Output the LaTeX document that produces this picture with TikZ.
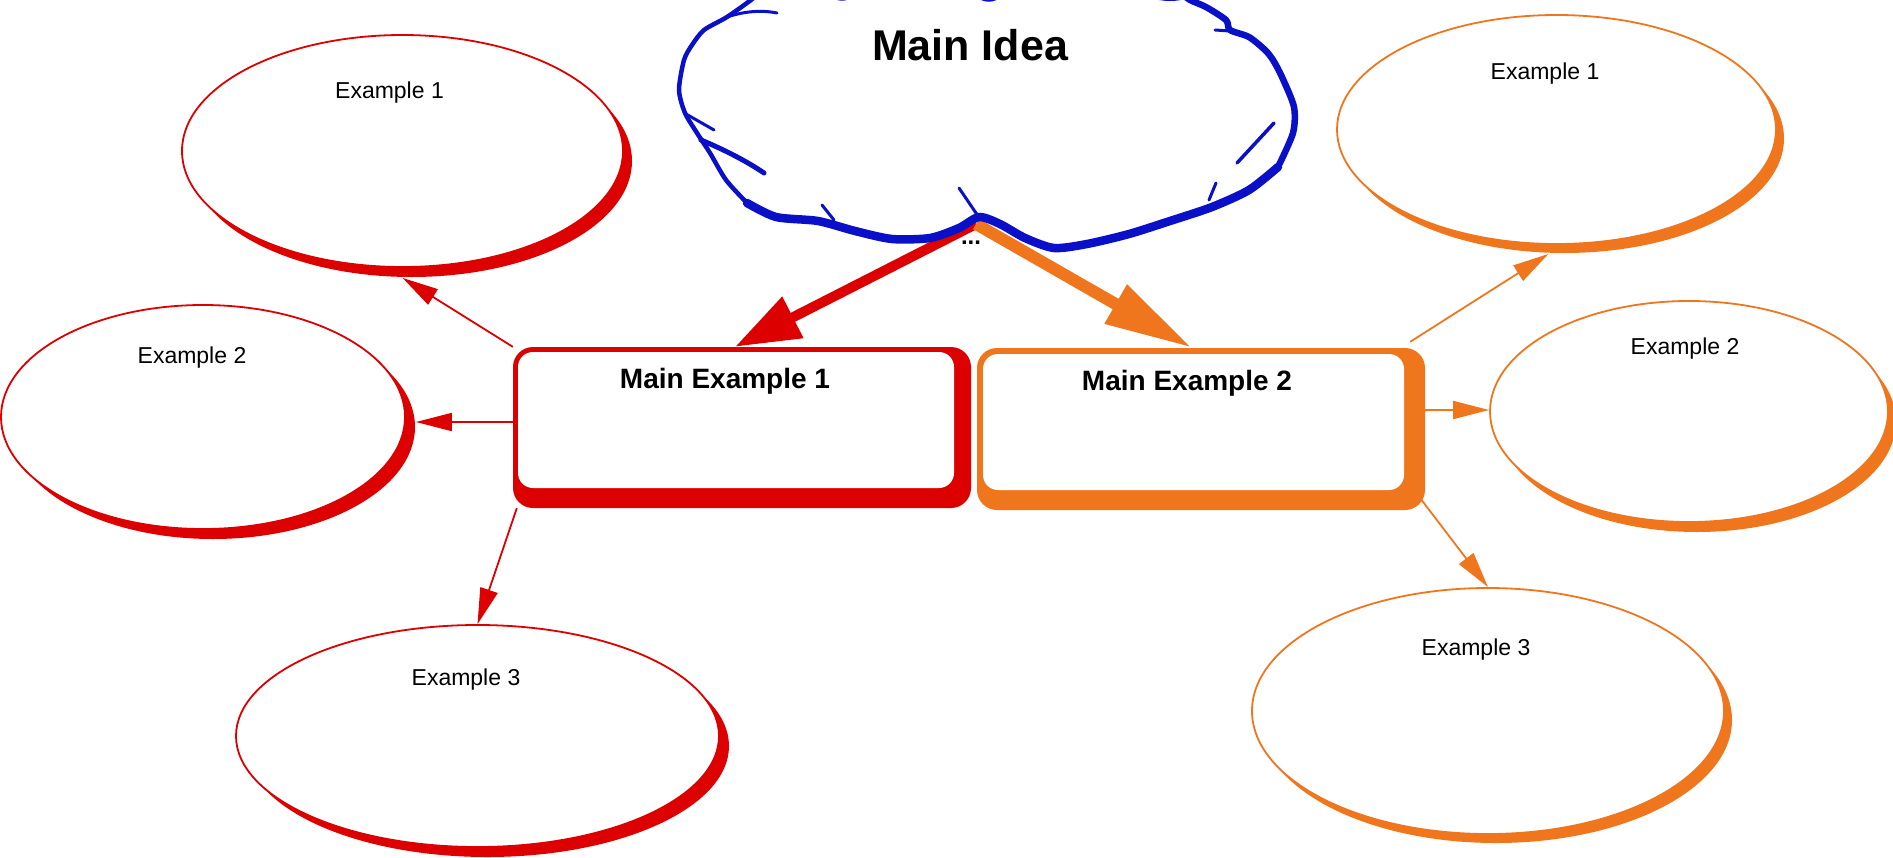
\documentclass[tikz,border=0pt]{standalone}
\usepackage{fontspec}
\setmainfont{Liberation Sans}
\usetikzlibrary{shapes.geometric,shadows,arrows.meta}
\definecolor{redc}{RGB}{221,0,0}
\definecolor{orangec}{RGB}{240,118,30}
\definecolor{bluec}{RGB}{10,15,200}
\begin{document}
\begin{tikzpicture}[x=1pt,y=-1pt,
  oval/.style args={#1/#2/#3}{ellipse, draw=#1, line width=1.8pt, fill=white, inner sep=0pt,
    drop shadow={shadow xshift=#2pt, shadow yshift=-#3pt, fill=#1, opacity=1}},
  mbox/.style args={#1/#2/#3/#4/#5}{rectangle, rounded corners=20pt, fill=#1, inner sep=0pt,
    path picture={\fill[white,rounded corners=15pt]
      ([shift={(#2pt,-#3pt)}]path picture bounding box.north west) rectangle
      ([shift={(-#4pt,#5pt)}]path picture bounding box.south east);}},
  extext/.style={font=\fontsize{23pt}{26pt}\selectfont, inner sep=0pt},
  mtext/.style={font=\bfseries\fontsize{28pt}{32pt}\selectfont, inner sep=0pt},
  thinarr/.style={draw=#1, line width=1.8pt, -{Triangle[length=36pt,width=18pt]}},
  cloudline/.style={draw=bluec, line join=round, line cap=round},
]
\useasboundingbox (0,0) rectangle (1893,857);

% ---- left ovals (red)
\node[oval=redc/9/10, minimum width=441pt, minimum height=232pt] (e1L) at (402.5,151) {};
\node[oval=redc/10/10, minimum width=404pt, minimum height=224pt] (e2L) at (203,417) {};
\node[oval=redc/10/10, minimum width=483pt, minimum height=222pt] (e3L) at (477.5,736) {};
% ---- right ovals (orange)
\node[oval=orangec/8/9, minimum width=439pt, minimum height=229pt] (e1R) at (1556.5,129.5) {};
\node[oval=orangec/8/10, minimum width=398pt, minimum height=221pt] (e2R) at (1689,411.5) {};
\node[oval=orangec/8/9, minimum width=472pt, minimum height=246pt] (e3R) at (1488,711) {};

\node[extext] (t1L) at (389.5,93) {Example 1};
\node[extext] (t2L) at (192,357.5) {Example 2};
\node[extext] (t3L) at (466,680) {Example 3};
\node[extext] (t1R) at (1545,73.5) {Example 1};
\node[extext] (t2R) at (1685,349) {Example 2};
\node[extext] (t3R) at (1476,650) {Example 3};

% ---- main boxes
\node[mbox=redc/5/5/17/20, minimum width=458pt, minimum height=161pt] (m1) at (742,427.5) {};
\node[mbox=orangec/6/6/21/20, minimum width=448pt, minimum height=162pt] (m2) at (1201,429) {};
\node[mtext] (mt1) at (725,381) {Main Example 1};
\node[mtext] (mt2) at (1187,383) {Main Example 2};

% ---- thin connectors
\draw[thinarr=redc] (m1.north west) -- ([yshift=-10pt]e1L.south);
\draw[thinarr=redc] ([yshift=5.5pt]m1.west) -- ([xshift=10pt,yshift=-5pt]e2L.east);
\draw[thinarr=redc] ([xshift=4pt]m1.south west) -- (e3L.north);
\draw[thinarr=orangec] ([xshift=-15pt,yshift=6pt]m2.north east) -- ([xshift=-8pt,yshift=-9pt]e1R.south);
\draw[thinarr=orangec] ([yshift=19pt]m2.east) -- ([yshift=1.5pt]e2R.west);
\draw[thinarr=orangec] ([xshift=-5pt,yshift=12pt]m2.south east) -- (e3R.north);

% ---- thick connectors from the cloud
\coordinate (notch) at (976,224);
\draw[redc, line width=10pt, -{Triangle[length=65pt,width=44pt]}] (notch) -- ([xshift=-7pt]m1.north);
\draw[orangec, line width=12pt, -{Triangle[length=88pt,width=42pt]}] (notch) -- ([xshift=-9pt]m2.north);

% ---- cloud
\path[fill=white] (751,-20) -- (751,0) -- (727,17) -- (704,30) -- (684,60) -- (679,90)
  -- (685,113) -- (697,133) -- (710,153) -- (726,180) -- (747,203) -- (776,217) -- (818,220)
  -- (855,230) -- (892,238) -- (930,237) -- (959,227) -- (980,217) -- (1000,223) -- (1025,237)
  -- (1054,248) -- (1087,243) -- (1129,233) -- (1170,220) -- (1212,207) -- (1249,190)
  -- (1278,167) -- (1293,133) -- (1293,107) -- (1282,77) -- (1273,60) -- (1265,50) -- (1249,37)
  -- (1230,30) -- (1226,20) -- (1206,7) -- (1190,0) -- (1190,-20) -- cycle;
\draw[cloudline, line width=4.5pt] plot[smooth, tension=0.45] coordinates {
  (760,-8) (751,0) (727,17) (704,30) (692,45) (684,60) (679,90) (685,113) (697,133) (710,153)
  (726,180) (747,203)};
\draw[cloudline, line width=8.5pt] plot[smooth, tension=0.45] coordinates {
  (747,203) (776,217) (818,221) (855,231) (892,239) (930,238) (959,228) (979,217) (1000,224)
  (1025,238) (1054,248) (1087,244) (1129,234) (1170,221) (1212,207) (1249,190) (1278,167)};
\draw[cloudline, line width=6.5pt] plot[smooth, tension=0.45] coordinates {
  (1278,167) (1293,133) (1294,107) (1282,77) (1273,60) (1265,50) (1249,37) (1230,30)
  (1226,20) (1206,7) (1190,0) (1180,-8)};
% top bumps peeking in
\draw[cloudline, line width=3pt] (830,-6) .. controls (838,1) and (846,1) .. (854,-6);
\draw[cloudline, line width=3.5pt] (975,-6) .. controls (984,2) and (994,2) .. (1002,-6);
\draw[cloudline, line width=2.5pt] (1150,-4) .. controls (1162,1) and (1178,1) .. (1190,-4);
% interior strokes
\draw[cloudline, line width=3pt] (727,17) .. controls (745,11) and (762,10) .. (777,13);
\draw[cloudline, line width=3pt] (686,114) -- (714,130);
\draw[cloudline, line width=5pt] (701,140) .. controls (725,150) and (748,162) .. (764,173);
\draw[cloudline, line width=3pt] (822,205) -- (834,220);
\draw[cloudline, line width=3pt] (959,188) -- (978,216);
\draw[cloudline, line width=3pt] (1216,183) -- (1209,200);
\draw[cloudline, line width=3.5pt] (1237,163) -- (1274,123);
\draw[cloudline, line width=3pt] (1215,30) -- (1230,31);

\node[font=\bfseries\fontsize{43pt}{48pt}\selectfont, inner sep=0pt] (idea) at (970,45) {Main Idea};
\node[font=\bfseries\fontsize{24pt}{26pt}\selectfont, inner sep=0pt, anchor=base] (dots) at (971,244) {...};
\end{tikzpicture}
\end{document}
